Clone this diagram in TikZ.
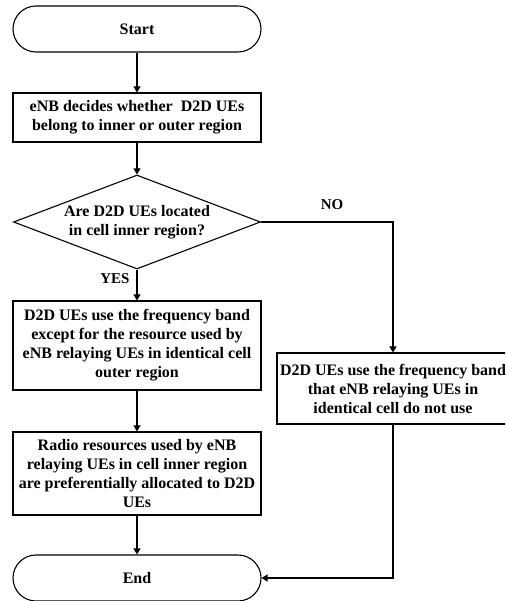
\documentclass[tikz,border=0pt]{standalone}
\usepackage{fontspec}
\setmainfont{Liberation Serif}
\usetikzlibrary{shapes.geometric,arrows.meta}
\begin{document}
\begin{tikzpicture}[x=1pt,y=-1pt,
  every node/.style={font=\fontsize{16}{19}\selectfont\bfseries, align=center},
  box/.style={draw, line width=1.1pt, rectangle, inner sep=0pt, minimum width=248pt},
  term/.style={box, rounded corners=23pt, minimum height=46pt},
  cond/.style={draw, line width=1.1pt, diamond, inner sep=0pt, aspect=2.63,
    minimum width=247pt, minimum height=94pt},
  flow/.style={line width=1.1pt, -{Triangle[length=6pt,width=7pt]}},
  tag/.style={font=\fontsize{15}{18}\selectfont\bfseries}]
\useasboundingbox (0,0) rectangle (505,601);
\clip (0,0) rectangle (505,601);

% main column
\node[term] (start) at (137,29) {Start};
\node[box, minimum height=49pt] (decide) at (137,117.5)
  {eNB decides whether \ D2D UEs\\belong to inner or outer region};
\node[cond] (ask) at (137,222) {};
\node at (ask) {Are D2D UEs located\\in cell inner region?};
\node[box, minimum height=89pt] (inner) at (137,345.5)
  {D2D UEs use the frequency band\\except for the resource used by\\eNB relaying UEs in identical cell\\outer region};
\node[box, minimum height=83pt] (alloc) at (137,473.5)
  {Radio resources used by eNB\\relaying UEs in cell inner region\\are preferentially allocated to D2D\\UEs};
\node[term] (finish) at (137,578) {End};

% right branch
\node[box, minimum width=232pt, minimum height=71pt] (outer) at (393,388.5)
  {D2D UEs use the frequency band\\that eNB relaying UEs in\\identical cell do not use};

% connectors
\draw[flow] (start) -- (decide);
\draw[flow] (decide) -- (ask);
\draw[flow] (ask) -- (inner);
\draw[flow] (inner) -- (alloc);
\draw[flow] (alloc) -- (finish);
\draw[flow] (ask.east) -| (outer.north);
\draw[flow] (outer.south) |- (finish.east);

% branch labels
\node[tag] (yes) at (115,279) {YES};
\node[tag] (no) at (332,205) {NO};
\end{tikzpicture}
\end{document}
